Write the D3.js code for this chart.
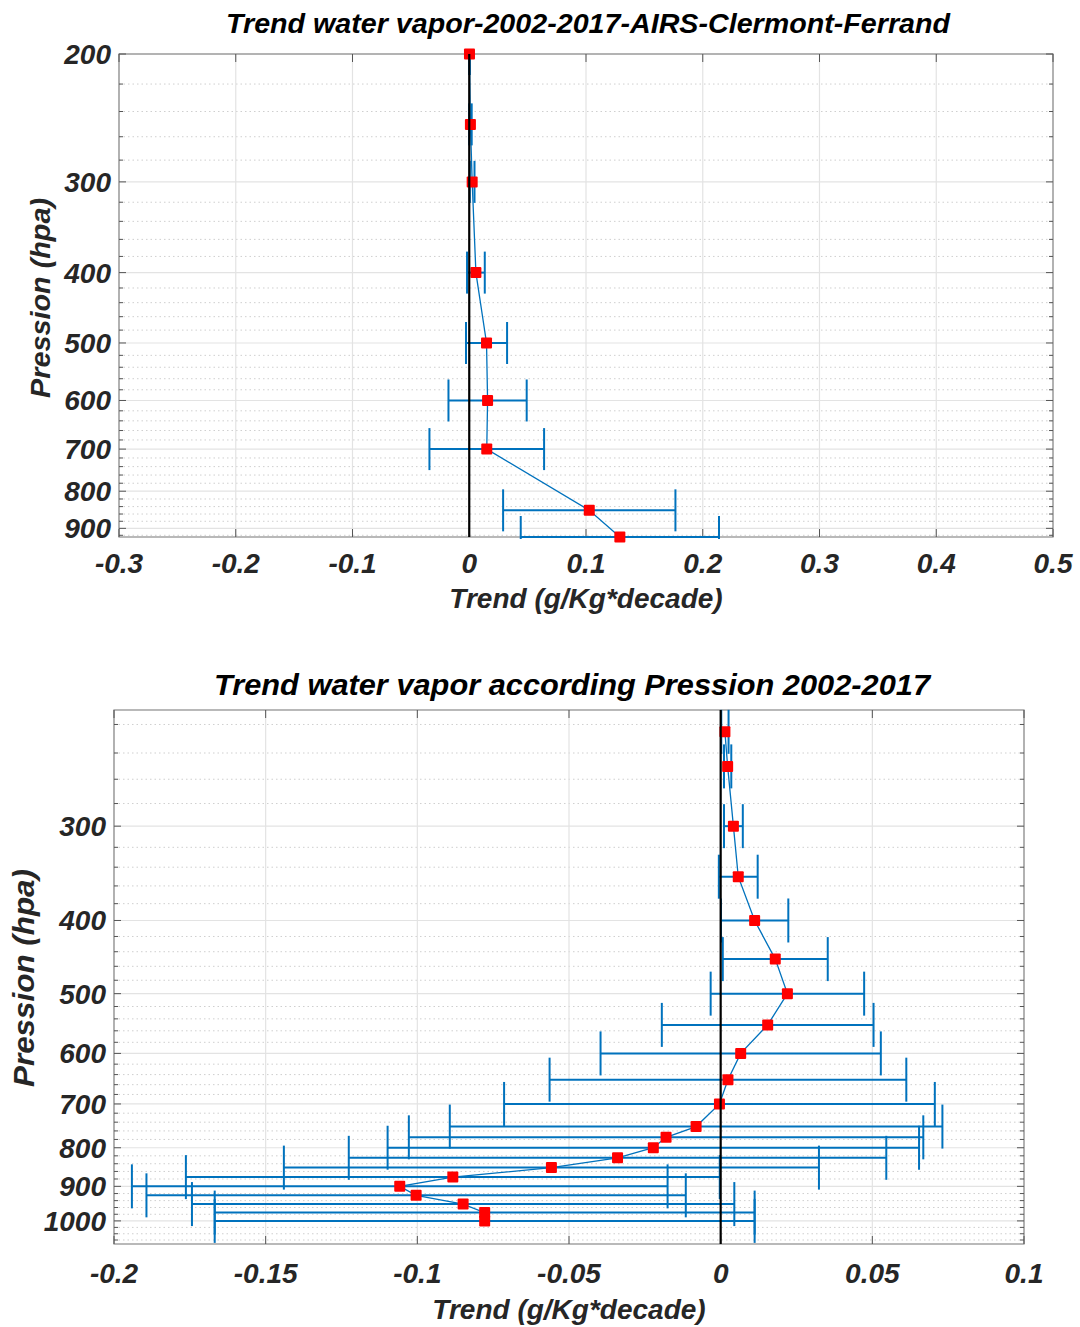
<!DOCTYPE html>
<html><head><meta charset="utf-8">
<script src="https://cdn.jsdelivr.net/npm/d3@7"></script>
<style>
body{margin:0;background:#fff}
text{font-family:"Liberation Sans",Arial,Helvetica,sans-serif;font-weight:bold;font-style:italic}
</style>
</head><body>
<svg id="c" width="1080" height="1327"></svg>
<script>
// ---------- Data: top panel (AIRS, Clermont-Ferrand) ----------
const topPressure = [200, 250, 300, 400, 500, 600, 700, 850, 925];
const topTrend    = [0.0002, 0.001, 0.0025, 0.0057, 0.0148, 0.0157, 0.015, 0.1028, 0.129];
const topError    = [0.0003, 0.0011, 0.002, 0.0076, 0.0176, 0.0335, 0.0491, 0.0738, 0.0849];
const topXTicks      = [-0.3, -0.2, -0.1, 0, 0.1, 0.2, 0.3, 0.4, 0.5];
const topXTickLabels = ["-0.3", "-0.2", "-0.1", "0", "0.1", "0.2", "0.3", "0.4", "0.5"];
const topYTicks      = [200, 300, 400, 500, 600, 700, 800, 900];
const topYTickLabels = ["200", "300", "400", "500", "600", "700", "800", "900"];
const topTitle = "Trend water vapor-2002-2017-AIRS-Clermont-Ferrand";

// ---------- Data: bottom panel ----------
const botPressure = [225, 250, 300, 350, 400, 450, 500, 550, 600, 650, 700, 750, 775, 800, 825, 850, 875, 900, 925, 950, 975, 1000];
const botTrend    = [0.0014, 0.0023, 0.0042, 0.0058, 0.0112, 0.018, 0.022, 0.0155, 0.0066, 0.0024, -0.0004, -0.0081, -0.018, -0.0222, -0.034, -0.0558, -0.0883, -0.1058, -0.1004, -0.0849, -0.0778, -0.0778];
const botError    = [0.0012, 0.0012, 0.0031, 0.0064, 0.0111, 0.0173, 0.0253, 0.0349, 0.0462, 0.0588, 0.071, 0.0812, 0.0848, 0.0876, 0.0886, 0.0882, 0.088, 0.0883, 0.0889, 0.0894, 0.089, 0.089];
const botXTicks      = [-0.2, -0.15, -0.1, -0.05, 0, 0.05, 0.1];
const botXTickLabels = ["-0.2", "-0.15", "-0.1", "-0.05", "0", "0.05", "0.1"];
const botYTicks      = [300, 400, 500, 600, 700, 800, 900, 1000];
const botYTickLabels = ["300", "400", "500", "600", "700", "800", "900", "1000"];
const botTitle = "Trend water vapor according Pression 2002-2017";

const xLabel = "Trend (g/Kg*decade)";
const yLabel = "Pression (hpa)";

const svg = d3.select("#c");
const BLUE = "#0072BD";
let clipId = 0;

function drawPanel(c) {
  const x = d3.scaleLinear().domain(c.xDomain).range([c.left, c.right]);
  const y = d3.scaleLog().domain(c.yDomain).range([c.top, c.bottom]);
  const g = svg.append("g");
  const cid = "clip" + (clipId++);
  svg.append("defs").append("clipPath").attr("id", cid).append("rect")
    .attr("x", c.left).attr("y", c.top - 2).attr("width", c.right - c.left).attr("height", c.bottom - c.top + 4);

  const minor = d3.range(Math.ceil(c.yDomain[0] / 20) * 20, c.yDomain[1], 20)
    .filter(v => v % 100 !== 0 && v > c.yDomain[0]);

  g.selectAll(".mg").data(minor).join("line")
    .attr("x1", c.left).attr("x2", c.right)
    .attr("y1", d => y(d)).attr("y2", d => y(d))
    .attr("stroke", "#cfcfcf").attr("stroke-width", 1).attr("stroke-dasharray", "1.5,3");
  g.selectAll(".hg").data(c.yTicks).join("line")
    .attr("x1", c.left).attr("x2", c.right)
    .attr("y1", d => y(d)).attr("y2", d => y(d))
    .attr("stroke", "#e3e3e3").attr("stroke-width", 1.2);
  g.selectAll(".vg").data(c.xTicks).join("line")
    .attr("x1", d => x(d)).attr("x2", d => x(d))
    .attr("y1", c.top).attr("y2", c.bottom)
    .attr("stroke", "#e3e3e3").attr("stroke-width", 1.2);

  g.append("rect").attr("x", c.left).attr("y", c.top)
    .attr("width", c.right - c.left).attr("height", c.bottom - c.top)
    .attr("fill", "none").attr("stroke", "#8a8a8a").attr("stroke-width", 1.2);

  const tk = g.append("g").attr("stroke", "#555").attr("stroke-width", 1);
  c.yTicks.forEach(v => {
    tk.append("line").attr("x1", c.left).attr("x2", c.left + 7).attr("y1", y(v)).attr("y2", y(v));
    tk.append("line").attr("x1", c.right).attr("x2", c.right - 7).attr("y1", y(v)).attr("y2", y(v));
  });
  minor.forEach(v => {
    tk.append("line").attr("x1", c.left).attr("x2", c.left + 4).attr("y1", y(v)).attr("y2", y(v));
    tk.append("line").attr("x1", c.right).attr("x2", c.right - 4).attr("y1", y(v)).attr("y2", y(v));
  });
  c.xTicks.forEach(v => {
    tk.append("line").attr("x1", x(v)).attr("x2", x(v)).attr("y1", c.bottom).attr("y2", c.bottom - 8);
    tk.append("line").attr("x1", x(v)).attr("x2", x(v)).attr("y1", c.top).attr("y2", c.top + 8);
  });

  g.selectAll(".yl").data(c.yTicks).join("text")
    .attr("x", c.left - 8).attr("y", d => y(d) + 10)
    .attr("text-anchor", "end").attr("font-size", 28).attr("fill", "#262626")
    .text((d, i) => c.yTickLabels[i]);
  g.selectAll(".xl").data(c.xTicks).join("text")
    .attr("x", d => x(d)).attr("y", c.xTickY)
    .attr("text-anchor", "middle").attr("font-size", 28).attr("fill", "#262626")
    .text((d, i) => c.xTickLabels[i]);

  g.append("text").attr("x", (c.left + c.right) / 2).attr("y", c.xLabelY)
    .attr("text-anchor", "middle").attr("font-size", 28).attr("fill", "#262626").text(xLabel);
  g.append("text").attr("transform", `translate(${c.yLabelX},${c.yLabelY}) rotate(-90)`)
    .attr("text-anchor", "middle").attr("font-size", c.yLabelSize).attr("fill", "#262626")
    .attr("textLength", c.yLabelLen).attr("lengthAdjust", "spacingAndGlyphs").text(yLabel);
  g.append("text").attr("x", c.titleX).attr("y", c.titleY)
    .attr("text-anchor", "middle").attr("font-size", c.titleSize).attr("fill", "#000")
    .attr("textLength", c.titleLen).attr("lengthAdjust", "spacingAndGlyphs").text(c.title);

  const pts = c.p.map((p, i) => ({p, v: c.v[i], e: c.e[i]}));
  const data = g.append("g").attr("clip-path", `url(#${cid})`);

  data.append("path").datum(pts)
    .attr("d", d3.line().x(d => x(d.v)).y(d => y(d.p)))
    .attr("fill", "none").attr("stroke", BLUE).attr("stroke-width", 1.3);

  const eb = data.append("g").attr("stroke", BLUE).attr("stroke-width", 2);
  pts.forEach(d => {
    const yy = y(d.p), x0 = x(d.v - d.e), x1 = x(d.v + d.e);
    eb.append("line").attr("x1", x0).attr("x2", x1).attr("y1", yy).attr("y2", yy);
    eb.append("line").attr("x1", x0).attr("x2", x0).attr("y1", yy - c.cap).attr("y2", yy + c.cap);
    eb.append("line").attr("x1", x1).attr("x2", x1).attr("y1", yy - c.cap).attr("y2", yy + c.cap);
  });

  g.selectAll(".mk").data(pts).join("rect")
    .attr("x", d => x(d.v) - 5.5).attr("y", d => y(d.p) - 5.5)
    .attr("width", 11).attr("height", 11).attr("rx", 1)
    .attr("fill", "#ff0000");

  g.append("line").attr("x1", x(0)).attr("x2", x(0))
    .attr("y1", c.top).attr("y2", c.bottom)
    .attr("stroke", "#000").attr("stroke-width", 2.2);
}

drawPanel({
  left: 119, right: 1053, top: 54, bottom: 537,
  xDomain: [-0.3, 0.5], yDomain: [200, 925],
  xTicks: topXTicks, xTickLabels: topXTickLabels,
  yTicks: topYTicks, yTickLabels: topYTickLabels,
  title: topTitle, titleX: 588, titleY: 33, titleSize: 28, titleLen: 724,
  xTickY: 573, xLabelY: 608,
  yLabelX: 50, yLabelY: 298, yLabelSize: 28, yLabelLen: 200, cap: 21,
  p: topPressure, v: topTrend, e: topError
});

drawPanel({
  left: 114, right: 1024, top: 710, bottom: 1244,
  xDomain: [-0.2, 0.1], yDomain: [210.5, 1073],
  xTicks: botXTicks, xTickLabels: botXTickLabels,
  yTicks: botYTicks, yTickLabels: botYTickLabels,
  title: botTitle, titleX: 572, titleY: 695, titleSize: 30, titleLen: 716,
  xTickY: 1283, xLabelY: 1319,
  yLabelX: 34, yLabelY: 978, yLabelSize: 30, yLabelLen: 218, cap: 22,
  p: botPressure, v: botTrend, e: botError
});
</script>
</body></html>
